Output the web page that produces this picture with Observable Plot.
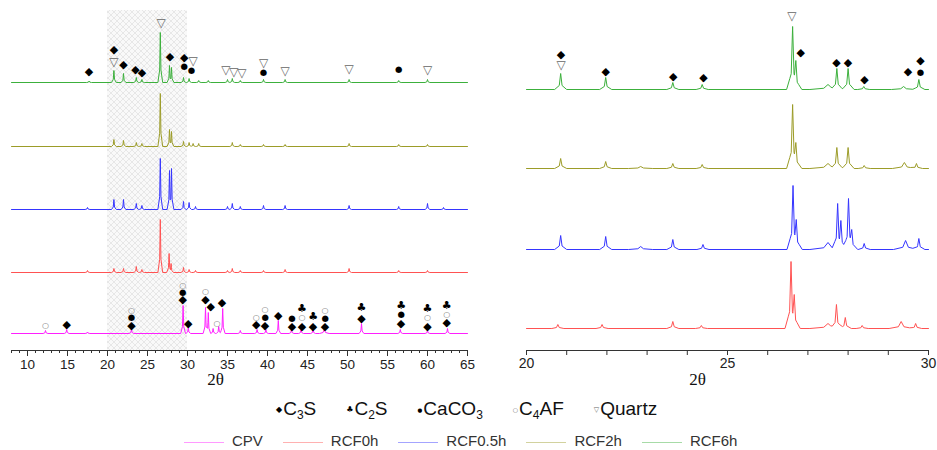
<!DOCTYPE html>
<html><head><meta charset="utf-8">
<script src="https://cdn.jsdelivr.net/npm/d3@7"></script>
<script src="https://cdn.jsdelivr.net/npm/@observablehq/plot@0.6"></script>
<style>
body{margin:0;background:#fff;font-family:"Liberation Sans",Arial,sans-serif;}
#wrap{position:relative;width:937px;height:450px;overflow:hidden;background:#fff;}
#left{position:absolute;left:0;top:0;}
#right{position:absolute;left:490px;top:0;}
#phases{position:absolute;left:276px;top:398px;display:flex;gap:30px;font-size:19px;color:#111;align-items:baseline;white-space:nowrap;}
#phases .g{font-family:"DejaVu Sans";margin-right:1px;position:relative;top:-3px;}
#phases sub{font-size:12px;vertical-align:-4px;line-height:0;}
#series{position:absolute;left:184px;top:432px;display:flex;gap:20px;font-size:15px;color:#333;align-items:center;white-space:nowrap;}
#series .sw{display:inline-block;width:40px;height:0;border-top:1.5px solid;margin-right:8px;vertical-align:middle;opacity:.45;}
</style></head>
<body><div id="wrap"><div id="left"></div><div id="right"></div><div id="phases"></div><div id="series"></div></div>
<script>
// ---------- data ----------
const series = ["CPV", "RCF0h", "RCF0.5h", "RCF2h", "RCF6h"];
const seriesColors = ["#ff1fff", "#ff5252", "#3535ff", "#9c9c28", "#3cb03c"];
const phases = ["C3S", "C2S", "CaCO3", "C4AF", "Quartz"];
const phaseLabels = ["C<sub>3</sub>S", "C<sub>2</sub>S", "CaCO<sub>3</sub>", "C<sub>4</sub>AF", "Quartz"];
const phaseGlyphs = ["◆", "♣", "●", "○", "▽"];

const leftDomain = [8, 65];
const leftTicks = [10, 15, 20, 25, 30, 35, 40, 45, 50, 55, 60, 65];
const rightDomain = [20, 30];
const rightTicks = [20, 25, 30];
const shadedRange = [20, 30];
const axisTitle = "2θ";

// stacking offsets (intensity units) per series
const leftOffsets = [17, 78, 141, 204, 268];
const rightOffsets = [null, 22, 101, 182, 261];

// peaks: [2θ, height, width factor]
const leftCPV = [[12.25,3],[14.9,4],[17.5,1.5],[23.0,4],[29.45,28],[30.1,6],[32.25,26],[32.6,21],[33.2,5],[33.9,7],[34.4,25],[36.6,3],[38.7,4],[39.8,4],[41.35,13],[43.0,4],[44.2,4],[45.7,4],[47.1,4,2],[51.75,10],[56.6,4],[60.0,3],[62.5,5]];
const leftRCF0h = [[17.5,2],[20.8,4],[22.0,4],[23.6,6],[24.3,3],[26.6,53],[27.7,19],[27.95,9],[29.5,5],[30.2,3],[31.0,2],[35.0,2],[35.6,4],[36.6,2],[39.5,2],[42.2,3],[50.2,4],[56.4,2],[60.0,2]];
const leftRCF05h = [[17.5,2],[20.8,10],[22.0,10],[23.6,6],[24.3,4],[26.6,51],[27.75,39],[28.0,41],[29.5,8],[30.2,7],[31.0,3],[35.0,3],[35.6,6],[36.6,3],[39.5,4],[42.2,4],[50.2,4],[56.4,3],[60.0,6],[62.0,2]];
const leftRCF2h = [[20.8,7],[22.0,6],[23.6,4],[24.3,3],[26.6,53],[27.75,17],[28.0,15],[29.5,5],[30.2,4],[30.7,3],[31.4,3],[35.6,4],[36.6,2],[39.5,2],[42.2,2],[50.2,3],[56.4,2],[60.0,2]];
const leftRCF6h = [[17.7,1.5],[20.8,12],[22.0,9],[23.6,5],[24.3,3],[26.6,50],[27.75,17],[28.0,15],[29.5,5],[30.2,4],[31.4,2],[32.6,2],[35.0,3],[35.6,4],[36.6,2],[39.5,3],[42.2,3],[50.2,3],[56.4,2],[60.0,3]];

const rightRCF0h = [[20.78,4],[21.88,4],[23.64,7],[24.35,3],[26.58,67],[26.66,34],[27.5,5,3],[27.71,24],[27.93,11],[28.35,3],[29.32,7,2],[29.68,5]];
const rightRCF05h = [[20.85,14],[21.97,13],[22.84,3,2],[23.64,10],[24.39,5],[26.63,64],[26.71,30],[27.5,7,3],[27.74,46],[27.82,29],[28.01,51],[28.09,20],[28.4,6],[29.43,9,2],[29.76,11]];
const rightRCF2h = [[20.85,10],[21.97,7],[22.84,2,2],[23.64,5],[24.37,4],[26.62,64],[26.7,26],[27.5,5,3],[27.72,21],[28.0,21],[28.4,3],[29.4,6,2],[29.7,5]];
const rightRCF6h = [[20.85,16],[21.97,12],[23.64,7],[24.37,5],[26.62,63],[26.7,29],[27.5,5,3],[27.72,21],[28.0,21],[28.39,3],[29.38,3,2],[29.76,10]];

// phase markers: [2θ, phase, height above the trace baseline]
const leftMarksCPV = [[12.25,"C4AF",8],[14.9,"C3S",9],
 [23.0,"C3S",8],[23.0,"CaCO3",16],[23.0,"C4AF",23],
 [29.4,"C3S",34],[29.4,"CaCO3",41],[29.4,"C4AF",48],[30.1,"C3S",10],
 [32.25,"C3S",34],[32.25,"C4AF",42],[32.9,"C3S",27],[33.7,"C4AF",10],[34.3,"C3S",31],
 [38.6,"C3S",9],[38.6,"C4AF",16],[39.7,"C3S",8],[39.7,"CaCO3",16],[39.7,"C4AF",24],
 [41.35,"C3S",18],[43.05,"C3S",7],[43.05,"CaCO3",15],
 [44.3,"C3S",7],[44.3,"C4AF",16],[44.3,"C2S",25],[45.7,"C3S",7],[45.7,"C2S",17],
 [47.2,"C3S",7],[47.2,"CaCO3",15],[47.2,"C4AF",23],
 [51.75,"C3S",15],[51.75,"C2S",26],[56.7,"C3S",10],[56.7,"CaCO3",19],[56.7,"C2S",28],
 [60.0,"C3S",7],[60.0,"C4AF",16],[60.0,"C2S",25],[62.4,"C3S",11],[62.4,"C4AF",19],[62.4,"C2S",28]];
const leftMarksRCF6h = [[17.7,"C3S",11],[20.8,"C3S",33],[20.8,"Quartz",20],[22.0,"C3S",18],[23.5,"C3S",13],[24.3,"C3S",10],
 [26.7,"Quartz",59],[27.8,"C3S",26],[29.6,"C3S",25],[29.6,"CaCO3",16],[30.7,"Quartz",21],[30.5,"CaCO3",12],
 [34.8,"Quartz",12],[35.8,"Quartz",10],[36.8,"Quartz",9],[39.5,"Quartz",19],[39.5,"CaCO3",10],
 [42.2,"Quartz",11],[50.2,"Quartz",13],[56.4,"CaCO3",13],[60.0,"Quartz",12]];
const rightMarksRCF6h = [[20.86,"C3S",35],[20.86,"Quartz",24],[21.97,"C3S",18],[23.65,"C3S",13],[24.4,"C3S",12],
 [26.6,"Quartz",73],[26.82,"C3S",37],[27.71,"C3S",27],[28.0,"C3S",27],[28.41,"C3S",10],[29.49,"C3S",18],[29.8,"C3S",29],[29.8,"CaCO3",17]];

// ---------- helpers ----------
function shape(d, h, wf, wn) {
  const a = Math.abs(d);
  if (a >= wf) return 0;
  if (a <= wn) return h - 0.75 * h * a / wn;
  return 0.25 * h * (wf - a) / (wf - wn);
}
function trace(peaks, domain, off, wf, wn) {
  const xs = new Set(domain);
  for (const [p, h, k = 1] of peaks) for (const d of [-wf*k, -wn*k, 0, wn*k, wf*k]) xs.add(p + d);
  return [...xs].filter(x => x >= domain[0] && x <= domain[1]).sort((a, b) => a - b)
    .map(x => ({x, y: off + (d3.max(peaks, ([p, h, k = 1]) => shape(x - p, h, wf*k, wn*k)) || 0)}));
}
function markers(list, off) { return list.map(([x, phase, h]) => ({x, phase, y: off + h})); }
const glyphStyle = {
  C3S: {fontSize: 11, fill: "#000"}, C2S: {fontSize: 11, fill: "#000"}, CaCO3: {fontSize: 8.5, fill: "#000"},
  C4AF: {fontSize: 8, fill: "#777"}, Quartz: {fontSize: 12, fill: "#666"}
};
const legendGlyphSize = [8, 8, 5.5, 6, 7];
function markerMarks(data) {
  return phases.map((ph, i) => Plot.text(data.filter(d => d.phase === ph), {
    x: "x", y: "y", text: () => phaseGlyphs[i], fontFamily: "DejaVu Sans", ...glyphStyle[ph]
  }));
}
const fontStyle = {fontFamily: "'Liberation Sans', Arial, sans-serif", fontSize: "13px", color: "#222", background: "white", overflow: "visible"};

// ---------- left panel ----------
const leftPeaks = [leftCPV, leftRCF0h, leftRCF05h, leftRCF2h, leftRCF6h];
const leftLines = leftPeaks.map((pk, i) => Plot.line(trace(pk, leftDomain, leftOffsets[i], 0.3, 0.08), {x: "x", y: "y", stroke: seriesColors[i], strokeWidth: 1}));
const leftM = [...markers(leftMarksCPV, leftOffsets[0]), ...markers(leftMarksRCF6h, leftOffsets[4])];
const left = Plot.plot({
  width: 490, height: 395, marginLeft: 11, marginRight: 23, marginTop: 10, marginBottom: 45,
  x: {domain: leftDomain, label: null}, y: {domain: [0, 340], axis: null},
  style: fontStyle,
  marks: [
    Plot.rect([shadedRange], {x1: d => d[0], x2: d => d[1], fill: "url(#hatch)"}),
    ...leftLines,
    ...markerMarks(leftM),
    Plot.frame({anchor: "bottom", stroke: "#333"}),
    Plot.axisX(d3.range(leftDomain[0], leftDomain[1] + 1), {tickSize: 3, tickFormat: () => "", stroke: "#333", label: null}),
    Plot.axisX(leftTicks, {tickSize: 6, tickPadding: 3, stroke: "#333", label: null, fontSize: 13.5}),
    Plot.text([axisTitle], {frameAnchor: "bottom", dy: 34, dx: -24, fontFamily: "'Liberation Serif', 'Times New Roman', serif", fontSize: 17, fill: "#111"})
  ]
});
d3.select(left).insert("defs", ":first-child").html(
  `<pattern id="hatch" width="6" height="6" patternUnits="userSpaceOnUse">
     <rect width="6" height="6" fill="#f9f9f9"/>
     <path d="M0,0L6,6M6,0L0,6" stroke="#e0e0e0" stroke-width="0.7"/>
   </pattern>`);
document.getElementById("left").appendChild(left);

// ---------- right panel ----------
const rightPeaks = [null, rightRCF0h, rightRCF05h, rightRCF2h, rightRCF6h];
const rightLines = rightPeaks.map((pk, i) => pk && Plot.line(trace(pk, rightDomain, rightOffsets[i], 0.15, 0.035), {x: "x", y: "y", stroke: seriesColors[i], strokeWidth: 1})).filter(Boolean);
const right = Plot.plot({
  width: 447, height: 395, marginLeft: 36, marginRight: 9, marginTop: 10, marginBottom: 45,
  x: {domain: rightDomain, label: null}, y: {domain: [0, 340], axis: null},
  style: fontStyle,
  marks: [
    ...rightLines,
    ...markerMarks(markers(rightMarksRCF6h, rightOffsets[4])),
    Plot.frame({anchor: "bottom", stroke: "#333"}),
    Plot.axisX(d3.range(rightDomain[0], rightDomain[1] + 1), {tickSize: 5, tickFormat: () => "", stroke: "#333", label: null}),
    Plot.axisX(rightTicks, {tickSize: 5, tickPadding: 3, stroke: "#333", label: null, fontSize: 14}),
    Plot.text([axisTitle], {frameAnchor: "bottom", dy: 34, dx: -30, fontFamily: "'Liberation Serif', 'Times New Roman', serif", fontSize: 17, fill: "#111"})
  ]
});
document.getElementById("right").appendChild(right);

// ---------- legends ----------
document.getElementById("phases").innerHTML = phases.map((p, i) =>
  `<span><span class="g" style="font-size:${legendGlyphSize[i]}px;color:${i >= 3 ? '#666' : '#000'}">${phaseGlyphs[i]}</span>${phaseLabels[i]}</span>`).join("");
document.getElementById("series").innerHTML = series.map((s, i) =>
  `<span><span class="sw" style="border-color:${seriesColors[i]}"></span>${s}</span>`).join("");
</script></body></html>
